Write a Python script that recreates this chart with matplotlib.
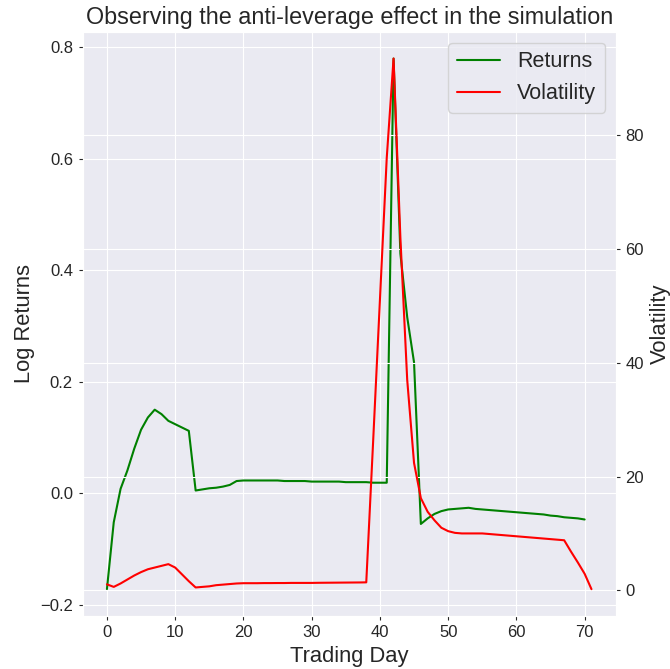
import numpy as np
import matplotlib
matplotlib.use("Agg")
import matplotlib.pyplot as plt
import seaborn as sns

sns.set_style("darkgrid")
plt.rcParams['font.family'] = ['Liberation Sans', 'DejaVu Sans']
plt.rcParams['xtick.bottom'] = True
plt.rcParams['ytick.left'] = True
plt.rcParams['ytick.right'] = True

returns = [
    -0.172, -0.052, 0.008, 0.041, 0.080, 0.114, 0.136, 0.150, 0.142, 0.130,
    0.124, 0.118, 0.112, 0.005, 0.007, 0.009, 0.010, 0.012, 0.015, 0.022,
    0.023, 0.023, 0.023, 0.023, 0.023, 0.023, 0.022, 0.022, 0.022, 0.022,
    0.021, 0.021, 0.021, 0.021, 0.021, 0.020, 0.020, 0.020, 0.020, 0.019,
    0.019, 0.019, 0.780, 0.430, 0.316, 0.235, -0.055, -0.045, -0.037, -0.032,
    -0.029, -0.028, -0.027, -0.026, -0.028, -0.029, -0.030, -0.031, -0.032, -0.033,
    -0.034, -0.035, -0.036, -0.037, -0.038, -0.040, -0.041, -0.043, -0.044, -0.045,
    -0.047,
]
volatility = [
    1.05, 0.6, 1.2, 1.9, 2.6, 3.2, 3.7, 4.0, 4.3, 4.6,
    4.0, 2.8, 1.6, 0.5, 0.6, 0.7, 0.9, 1.0, 1.1, 1.2,
    1.25, 1.25, 1.25, 1.27, 1.27, 1.28, 1.28, 1.3, 1.3, 1.3,
    1.3, 1.32, 1.33, 1.34, 1.35, 1.36, 1.37, 1.38, 1.4, 26.0,
    51.0, 76.0, 93.5, 62.0, 37.0, 22.4, 16.2, 13.8, 12.3, 11.0,
    10.4, 10.1, 10.0, 10.0, 10.0, 10.0, 9.9, 9.8, 9.7, 9.6,
    9.5, 9.4, 9.3, 9.2, 9.1, 9.0, 8.9, 8.8, 6.8, 4.9,
    2.9, 0.2,
]
days_r = np.arange(len(returns))
days_v = np.arange(len(volatility))

W, H = 670, 669
L, R, T, B = 82.7, 615.7, 32, 615.7
fig = plt.figure(figsize=(W/100, H/100), dpi=100)
ax = fig.add_axes([L/W, 1 - B/H, (R-L)/W, (B-T)/H])
ax.plot(days_r, returns, color='green', lw=1.5, label='Returns')
ax2 = ax.twinx()
ax2.plot(days_v, volatility, color='red', lw=1.5, label='Volatility')

ax.set_xticks(np.arange(0, 71, 10))
ax.tick_params(labelsize=12, length=3, color='.15', pad=4)
ax2.tick_params(labelsize=12, length=3, color='.15', pad=4)
ax.set_xlabel('Trading Day', fontsize=15.8)
ax.set_ylabel('Log Returns', fontsize=15.8)
ax2.set_ylabel('Volatility', fontsize=15.8)
ax.set_title('Observing the anti-leverage effect in the simulation', fontsize=16.8)

h1, l1 = ax.get_legend_handles_labels()
h2, l2 = ax2.get_legend_handles_labels()
ax2.legend(h1 + h2, l1 + l2, loc='upper right', fontsize=15.5)

fig.savefig('out.png', dpi=100)
